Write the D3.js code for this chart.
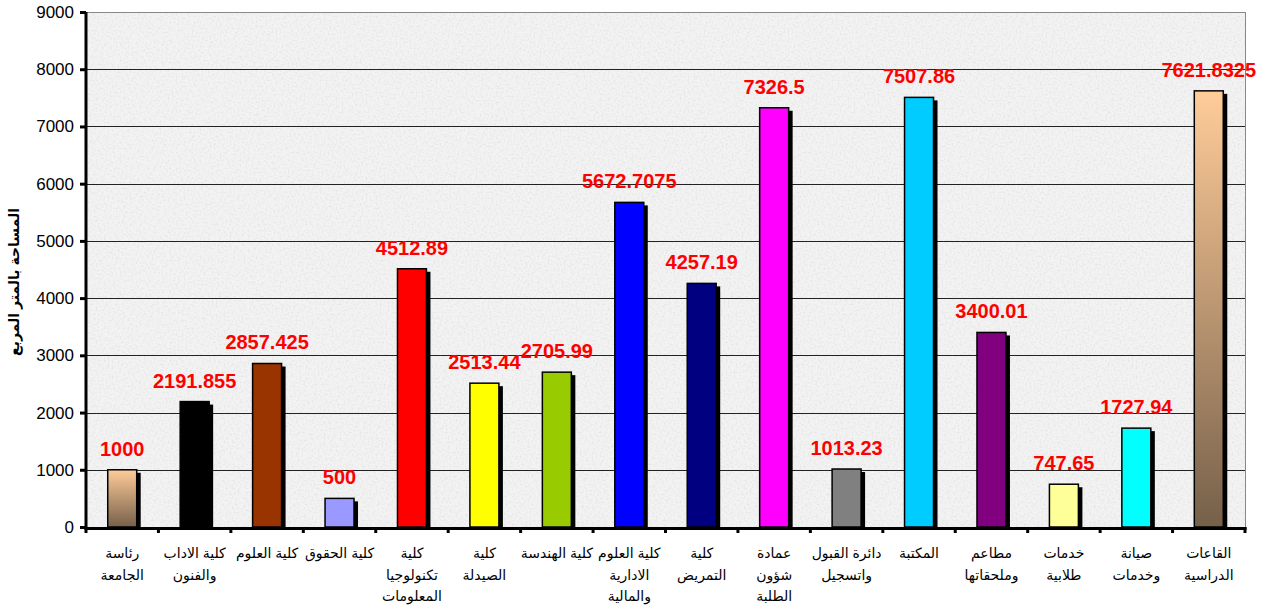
<!DOCTYPE html>
<html>
<head>
<meta charset="utf-8">
<script src="https://cdn.jsdelivr.net/npm/d3@7"></script>
<style>
  body { margin: 0; background: #fff; }
  svg text { font-family: "Liberation Sans", Arial, "DejaVu Sans", sans-serif; }
</style>
</head>
<body>
<div class="mainviz"></div>
<script>
var categories = [
	["رئاسة", "الجامعة"],
	["كلية الاداب", "والفنون"],
	["كلية العلوم"],
	["كلية الحقوق"],
	["كلية", "تكنولوجيا", "المعلومات"],
	["كلية", "الصيدلة"],
	["كلية الهندسة"],
	["كلية العلوم", "الادارية", "والمالية"],
	["كلية", "التمريض"],
	["عمادة", "شؤون", "الطلبة"],
	["دائرة القبول", "واتسجيل"],
	["المكتبة"],
	["مطاعم", "وملحقاتها"],
	["خدمات", "طلابية"],
	["صيانة", "وخدمات"],
	["القاعات", "الدراسية"]
];
var areas = [1000, 2191.855, 2857.425, 500, 4512.89, 2513.44, 2705.99, 5672.7075,
	4257.19, 7326.5, 1013.23, 7507.86, 3400.01, 747.65, 1727.94, 7621.8325];
var valueLabels = ["1000", "2191.855", "2857.425", "500", "4512.89", "2513.44", "2705.99", "5672.7075",
	"4257.19", "7326.5", "1013.23", "7507.86", "3400.01", "747.65", "1727.94", "7621.8325"];
var barColors = ["url(#brownGrad)", "#000000", "#993300", "#9999ff", "#ff0000", "#ffff00", "#99cc00", "#0000ff",
	"#000080", "#ff00ff", "#808080", "#00ccff", "#800080", "#ffff99", "#00ffff", "url(#brownGrad)"];
var yTicks = [0, 1000, 2000, 3000, 4000, 5000, 6000, 7000, 8000, 9000];
var yTitle = "المساحة بالمتر المربع";

var margin = { top: 12, right: 16, bottom: 79, left: 86 };
var width = 1261 - margin.left - margin.right,
	height = 606 - margin.top - margin.bottom;

var svg = d3.select(".mainviz").append("svg")
	.attr("width", 1261)
	.attr("height", 606);

var defs = svg.append("defs");
var grad = defs.append("linearGradient")
	.attr("id", "brownGrad")
	.attr("x1", 0).attr("y1", 0).attr("x2", 0).attr("y2", 1);
grad.append("stop").attr("offset", "0%").attr("stop-color", "#ffcc99");
grad.append("stop").attr("offset", "100%").attr("stop-color", "#76604a");

var noise = defs.append("filter").attr("id", "paper")
	.attr("x", 0).attr("y", 0).attr("width", 1).attr("height", 1);
noise.append("feTurbulence")
	.attr("type", "fractalNoise")
	.attr("baseFrequency", 0.5)
	.attr("numOctaves", 2)
	.attr("seed", 3)
	.attr("result", "t");
noise.append("feColorMatrix")
	.attr("in", "t")
	.attr("type", "matrix")
	.attr("values", "0 0 0 0 0.7  0 0 0 0 0.7  0 0 0 0 0.7  1.5 0 0 0 -0.68")
	.attr("result", "n");
noise.append("feComposite").attr("in", "n").attr("in2", "SourceGraphic").attr("operator", "in").attr("result", "c");
var merge = noise.append("feMerge");
merge.append("feMergeNode").attr("in", "SourceGraphic");
merge.append("feMergeNode").attr("in", "c");

var chartGroup = svg.append("g")
	.attr("transform", "translate(" + margin.left + "," + margin.top + ")");

var y = d3.scaleLinear()
	.domain([0, 9000])
	.range([height, 0]);

var x = d3.scaleBand()
	.domain(d3.range(categories.length))
	.range([0, width])
	.paddingInner(0.6)
	.paddingOuter(0.3);

var xBound = d3.scaleLinear()
	.domain([0, categories.length])
	.range([0, width]);

// plot background
chartGroup.append("rect")
	.attr("width", width)
	.attr("height", height)
	.attr("fill", "#f3f3f3")
	.attr("filter", "url(#paper)");

// gridlines
chartGroup.selectAll("line.grid")
	.data(yTicks.filter(function(d){ return d > 0; }))
	.enter().append("line")
	.attr("class", "grid")
	.attr("x1", 0).attr("x2", width)
	.attr("y1", function(d){ return Math.round(y(d)) + 0.5; })
	.attr("y2", function(d){ return Math.round(y(d)) + 0.5; })
	.attr("stroke", function(d){ return d === 9000 ? "#888" : "#222"; })
	.attr("stroke-width", 1);

chartGroup.append("line")
	.attr("x1", width + 0.5).attr("x2", width + 0.5)
	.attr("y1", 0).attr("y2", height)
	.attr("stroke", "#888");

// shadows
chartGroup.selectAll("rect.shadow")
	.data(areas)
	.enter().append("rect")
	.attr("class", "shadow")
	.attr("x", function(d, i){ return x(i) + 4; })
	.attr("y", function(d){ return y(d) + 3; })
	.attr("width", x.bandwidth())
	.attr("height", function(d){ return height - y(d) - 3; })
	.attr("fill", "#000");

// bars
chartGroup.selectAll("rect.bar")
	.data(areas)
	.enter().append("rect")
	.attr("class", "bar")
	.attr("x", function(d, i){ return x(i); })
	.attr("y", function(d){ return y(d); })
	.attr("width", x.bandwidth())
	.attr("height", function(d){ return height - y(d); })
	.attr("fill", function(d, i){ return barColors[i]; })
	.attr("stroke", "#000")
	.attr("stroke-width", 1.5);

// value labels
chartGroup.selectAll("text.val")
	.data(areas)
	.enter().append("text")
	.attr("class", "val")
	.attr("x", function(d, i){ return x(i) + x.bandwidth() / 2; })
	.attr("y", function(d){ return y(d) - 14; })
	.attr("text-anchor", "middle")
	.attr("fill", "#ff0000")
	.attr("font-weight", "bold")
	.attr("font-size", "20px")
	.text(function(d, i){ return valueLabels[i]; });

// y axis
var yAxis = d3.axisLeft(y).tickValues(yTicks).tickFormat(d3.format("d")).tickSize(6).tickPadding(6);
var ya = chartGroup.append("g")
	.attr("class", "axis y")
	.call(yAxis);
ya.select(".domain").remove();
ya.selectAll("line").attr("stroke", "#000").attr("stroke-width", 3);
ya.selectAll("text").attr("font-size", "17px").attr("fill", "#000")
	.style("font-family", "'Liberation Sans', Arial, sans-serif");

// x axis boundary ticks
chartGroup.selectAll("line.xtick")
	.data(d3.range(categories.length + 1))
	.enter().append("line")
	.attr("class", "xtick")
	.attr("x1", function(d){ return xBound(d); })
	.attr("x2", function(d){ return xBound(d); })
	.attr("y1", height)
	.attr("y2", height + 6)
	.attr("stroke", "#000")
	.attr("stroke-width", 3);

// axis lines
chartGroup.append("line")
	.attr("x1", 0).attr("x2", 0)
	.attr("y1", 0).attr("y2", height + 1.5)
	.attr("stroke", "#000").attr("stroke-width", 3);
chartGroup.append("line")
	.attr("x1", -1.5).attr("x2", width + 1.5)
	.attr("y1", height + 1.5).attr("y2", height + 1.5)
	.attr("stroke", "#000").attr("stroke-width", 3);

// category labels
var cat = chartGroup.selectAll("text.cat")
	.data(categories)
	.enter().append("text")
	.attr("class", "cat")
	.attr("text-anchor", "middle")
	.attr("font-size", "14px")
	.attr("fill", "#000")
	.attr("direction", "rtl");
cat.selectAll("tspan")
	.data(function(d, i){ return d.map(function(s){ return { s: s, i: i }; }); })
	.enter().append("tspan")
	.attr("x", function(d){ return x(d.i) + x.bandwidth() / 2; })
	.attr("y", function(d, j){ return height + 31 + j * 21.5; })
	.text(function(d){ return d.s; });

// y title
svg.append("text")
	.attr("transform", "translate(19," + 282 + ") rotate(-90)")
	.attr("text-anchor", "middle")
	.attr("font-size", "14px")
	.attr("font-weight", "bold")
	.attr("fill", "#000")
	.text(yTitle);
</script>
</body>
</html>
